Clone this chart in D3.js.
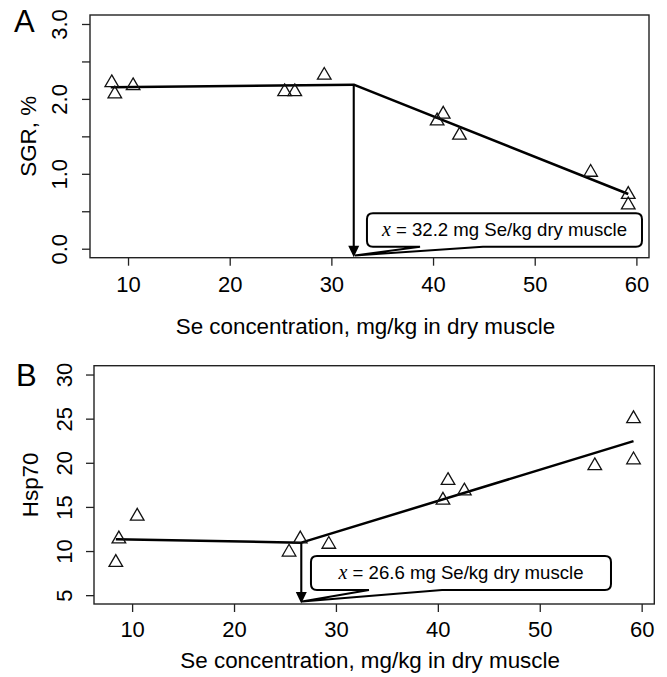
<!DOCTYPE html>
<html>
<head>
<meta charset="utf-8">
<script src="https://cdn.jsdelivr.net/npm/d3@7"></script>
<style>
  html, body { margin: 0; padding: 0; background: #fff; }
  svg { display: block; }
  text { font-family: Arial, "Liberation Sans", sans-serif; fill: #000; }
</style>
</head>
<body>
<svg id="chart" width="667" height="677"></svg>
<script>
// ---------- data ----------
const xTicks = [10, 20, 30, 40, 50, 60];
const yTicksA = [0, 0.5, 1, 1.5, 2, 2.5, 3];
const yLabelsA = ["0.0", "", "1.0", "", "2.0", "", "3.0"];
const yTicksB = [5, 10, 15, 20, 25, 30];

const seA  = [8.4, 8.7, 10.5, 25.4, 26.4, 29.3, 40.4, 41.0, 42.6, 55.5, 59.2, 59.2];
const sgrA = [2.215, 2.065, 2.175, 2.095, 2.095, 2.315, 1.705, 1.795, 1.515, 1.02, 0.725, 0.585];
const fitXA = [8.3, 32.2, 59.2];
const fitYA = [2.155, 2.19, 0.73];
const breakA = 32.2;

const seB   = [8.4, 8.7, 10.5, 25.4, 26.5, 29.3, 40.5, 41.0, 42.6, 55.4, 59.2, 59.2];
const hspB  = [8.70, 11.37, 13.94, 9.88, 11.37, 10.76, 15.76, 17.99, 16.80, 19.66, 20.33, 25.00];
const fitXB = [8.4, 26.6, 59.2];
const fitYB = [11.35, 10.95, 22.45];
const breakB = 26.6;

const xTitle = "Se concentration, mg/kg in dry muscle";

// ---------- panels ----------
const panels = [
  {
    letter: "A", yTitle: "SGR, %",
    xs: seA, ys: sgrA, fx: fitXA, fy: fitYA, brk: breakA,
    xDomain: [6.26, 61.24], yDomain: [-0.12, 3.12],
    left: 90, right: 649, top: 15, bottom: 257.7,
    yTicks: yTicksA, yFmt: (d, i) => yLabelsA[i],
    note: "32.2",
    box: [33.5, 60.55, 0.473, 0.027],          // x0, x1, yTop, yBottom (data units)
    tail: [[38.72, 0.027], [32.3, -0.09], [44.91, 0.027]],
    letterPos: [14, 31.5], yTitleX: 36, yTickX: 23, xTickDy: 34.5, xTitleY: 334
  },
  {
    letter: "B", yTitle: "Hsp70",
    xs: seB, ys: hspB, fx: fitXB, fy: fitYB, brk: breakB,
    xDomain: [6.26, 61.24], yDomain: [4, 31],
    left: 94, right: 654.3, top: 365.7, bottom: 604,
    yTicks: yTicksB, yFmt: d => String(d),
    note: "26.6",
    box: [27.55, 56.99, 9.44, 5.59],
    tail: [[33.24, 5.59], [26.67, 4.28], [40.41, 5.59]],
    letterPos: [16, 386], yTitleX: 38, yTickX: 22, xTickDy: 32.5, xTitleY: 668
  }
];

const svg = d3.select("#chart");

panels.forEach(p => {
  const x = d3.scaleLinear().domain(p.xDomain).range([p.left, p.right]);
  const y = d3.scaleLinear().domain(p.yDomain).range([p.bottom, p.top]);
  const g = svg.append("g");

  // x axis
  g.append("g")
    .attr("transform", `translate(0,${p.bottom})`)
    .call(d3.axisBottom(x).tickValues(xTicks).tickSize(8).tickSizeOuter(0).tickFormat(d3.format("d")))
    .call(a => a.select(".domain").remove())
    .call(a => a.selectAll(".tick line").attr("stroke", "#222").attr("stroke-width", 1.3))
    .call(a => a.selectAll(".tick text")
      .attr("y", p.xTickDy).attr("dy", null)
      .attr("font-size", 22).attr("fill", "#000")
      .style("font-family", "Arial, 'Liberation Sans', sans-serif"));

  // y axis
  g.append("g")
    .attr("transform", `translate(${p.left},0)`)
    .call(d3.axisLeft(y).tickValues(p.yTicks).tickSize(8).tickSizeOuter(0).tickFormat(p.yFmt))
    .call(a => a.select(".domain").remove())
    .call(a => a.selectAll(".tick line").attr("stroke", "#222").attr("stroke-width", 1.3))
    .call(a => a.selectAll(".tick text")
      .attr("x", null).attr("dy", null)
      .attr("transform", `translate(${-p.yTickX},0) rotate(-90)`)
      .attr("text-anchor", "middle")
      .attr("font-size", 22).attr("fill", "#000")
      .style("font-family", "Arial, 'Liberation Sans', sans-serif"));

  // frame
  g.append("rect")
    .attr("x", p.left).attr("y", p.top)
    .attr("width", p.right - p.left).attr("height", p.bottom - p.top)
    .attr("fill", "none").attr("stroke", "#222").attr("stroke-width", 1.4);

  // fitted segmented line
  const line = d3.line().x(d => x(d[0])).y(d => y(d[1]));
  const fitPts = p.fx.map((v, i) => [v, p.fy[i]]);
  g.append("path").attr("d", line(fitPts))
    .attr("fill", "none").attr("stroke", "#000").attr("stroke-width", 2.5)
    .attr("stroke-linejoin", "round");

  // points
  const sym = d3.symbol().type(d3.symbolTriangle).size(80);
  g.selectAll(".pt").data(p.xs.map((v, i) => [v, p.ys[i]])).join("path")
    .attr("class", "pt")
    .attr("d", sym)
    .attr("transform", d => `translate(${x(d[0])},${y(d[1])})`)
    .attr("fill", "none").attr("stroke", "#111").attr("stroke-width", 1.3);

  // breakpoint arrow
  const brkY = p.fy[1];
  const tipY = p.bottom - 0.5;
  g.append("line")
    .attr("x1", x(p.brk)).attr("x2", x(p.brk))
    .attr("y1", y(brkY)).attr("y2", tipY - 8)
    .attr("stroke", "#000").attr("stroke-width", 2.1);
  g.append("path")
    .attr("d", `M${x(p.brk) - 5.5},${tipY - 11.5} L${x(p.brk) + 5.5},${tipY - 11.5} L${x(p.brk)},${tipY} Z`)
    .attr("fill", "#000");

  // callout box with tail
  const [bx0, bx1, byT, byB] = p.box;
  const X0 = x(bx0), X1 = x(bx1), YT = y(byT), YB = y(byB), r = 6;
  const t1 = [x(p.tail[0][0]), y(p.tail[0][1])];
  const tt = [x(p.tail[1][0]), y(p.tail[1][1])];
  const t2 = [x(p.tail[2][0]), y(p.tail[2][1])];
  const pathD = [
    `M${X0 + r},${YT}`,
    `L${X1 - r},${YT}`, `Q${X1},${YT} ${X1},${YT + r}`,
    `L${X1},${YB - r}`, `Q${X1},${YB} ${X1 - r},${YB}`,
    `L${t2[0]},${t2[1]}`, `L${tt[0]},${tt[1]}`, `L${t1[0]},${t1[1]}`,
    `L${X0 + r},${YB}`, `Q${X0},${YB} ${X0},${YB - r}`,
    `L${X0},${YT + r}`, `Q${X0},${YT} ${X0 + r},${YT}`, "Z"
  ].join(" ");
  g.append("path").attr("d", pathD)
    .attr("fill", "#fff").attr("stroke", "#000").attr("stroke-width", 2)
    .attr("stroke-linejoin", "miter");

  const txt = g.append("text")
    .attr("x", (X0 + X1) / 2).attr("y", (YT + YB) / 2 + 6.5)
    .attr("text-anchor", "middle").attr("font-size", 18.6);
  txt.append("tspan").text("x")
    .style("font-family", "'Liberation Serif', 'Times New Roman', serif")
    .style("font-style", "italic").attr("font-size", 20);
  txt.append("tspan").text(` = ${p.note} mg Se/kg dry muscle`);

  // titles
  g.append("text")
    .attr("x", (p.left + p.right) / 2 - 4).attr("y", p.xTitleY)
    .attr("text-anchor", "middle").attr("font-size", 22.4)
    .text(xTitle);
  g.append("text")
    .attr("transform", `translate(${p.yTitleX},${(p.top + p.bottom) / 2}) rotate(-90)`)
    .attr("text-anchor", "middle").attr("font-size", 22.4)
    .text(p.yTitle);
  g.append("text")
    .attr("x", p.letterPos[0]).attr("y", p.letterPos[1])
    .attr("font-size", 31)
    .text(p.letter);
});
</script>
</body>
</html>
